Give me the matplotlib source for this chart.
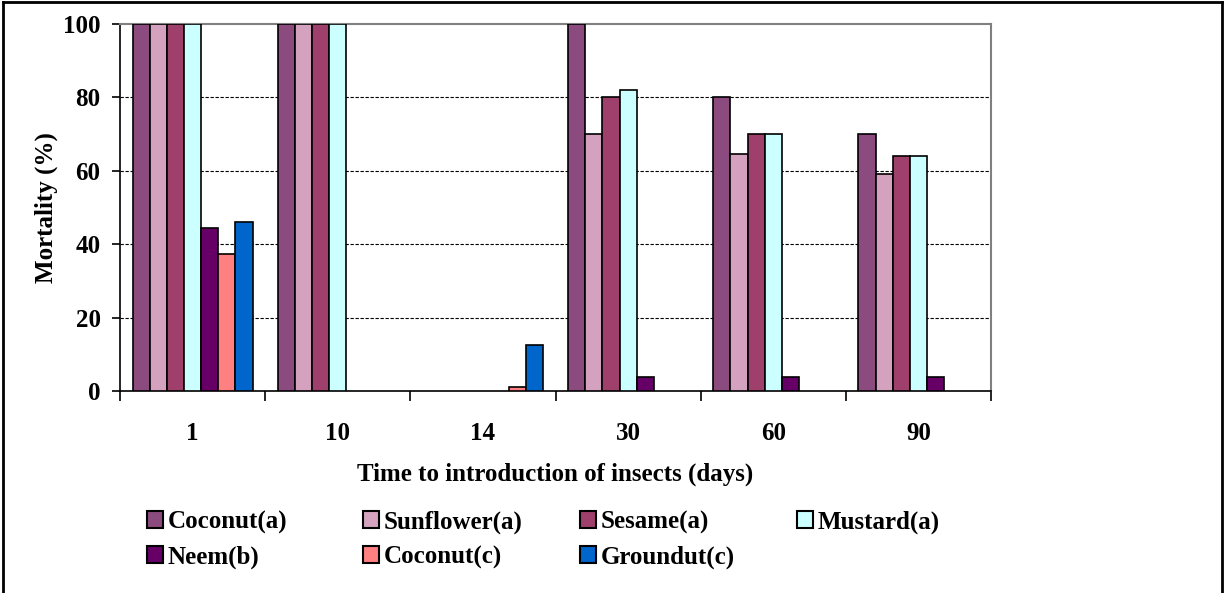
import matplotlib.pyplot as plt
import numpy as np
from matplotlib.lines import Line2D
from matplotlib.patches import Patch

plt.rcParams["font.family"] = ["Liberation Serif", "DejaVu Serif"]
plt.rcParams["font.weight"] = "bold"

days = ["1", "10", "14", "30", "60", "90"]
series_names = ["Coconut(a)", "Sunflower(a)", "Sesame(a)", "Mustard(a)",
                "Neem(b)", "Coconut(c)", "Groundut(c)"]
coconut_a = [100, 100, 0, 100, 80, 70]
sunflower_a = [100, 100, 0, 70, 64.5, 59.2]
sesame_a = [100, 100, 0, 80, 70, 64]
mustard_a = [100, 100, 0, 82, 70, 64]
neem_b = [44.5, 0, 0, 3.7, 3.7, 3.7]
coconut_c = [37.3, 0, 1, 0, 0, 0]
groundnut_c = [46, 0, 12.5, 0, 0, 0]
yticks = [0, 20, 40, 60, 80, 100]

series = [coconut_a, sunflower_a, sesame_a, mustard_a, neem_b, coconut_c, groundnut_c]
colors = ["#8C4B7E", "#D4A2BE", "#9E3F6C", "#CCFFFF", "#660066", "#FF8080", "#0066CC"]
FS = 18

fig = plt.figure(figsize=(12.24, 5.93), dpi=100)
ax = fig.add_axes([120 / 1224, 1 - 391 / 593, 871 / 1224, 367 / 593])

x = np.arange(len(days))
width = 0.118
for i, (vals, col) in enumerate(zip(series, colors)):
    # zero values are not drawn in the original
    heights = np.where(np.array(vals) == 0, np.nan, vals)
    ax.bar(x + (i - 3) * width, heights, width, color=col, edgecolor="black",
           linewidth=1.2, zorder=3)

ax.set_xlim(-0.5, len(days) - 0.5)
ax.set_ylim(0, 100)
ax.set_yticks(yticks)
ax.set_yticklabels([str(v) for v in yticks], fontsize=FS, fontweight="bold")
ax.set_xticks(x)
ax.set_xticklabels(days, fontsize=FS, fontweight="bold")
ax.set_xticks(np.arange(-0.5, len(days)), minor=True)
ax.tick_params(axis="x", which="major", length=0, pad=22)
ax.tick_params(axis="x", which="minor", length=7, width=1.2, direction="out")
ax.tick_params(axis="y", length=6, width=1.2, pad=8, direction="out")

for y in yticks[1:-1]:
    ax.axhline(y, color="black", linestyle=(0, (3, 1.5)), linewidth=0.8, zorder=1)

ax.spines["left"].set_linewidth(1.2)
ax.spines["bottom"].set_linewidth(1.2)
ax.spines["top"].set_color("#808080")
ax.spines["right"].set_color("#808080")
ax.spines["top"].set_linewidth(1.5)
ax.spines["right"].set_linewidth(1.5)

ax.set_xlabel("Time to introduction of insects (days)", fontsize=FS,
              fontweight="bold", labelpad=13)
ax.set_ylabel("Mortality (%)", fontsize=FS, fontweight="bold", labelpad=4)

# legend laid out in fixed columns like the original
col_x = [147, 363, 580, 797]
row_y = [522, 557]
for i, (name, col) in enumerate(zip(series_names, colors)):
    handle = Patch(facecolor=col, edgecolor="black", linewidth=1.5)
    fig.legend(handles=[handle], labels=[name], loc="center left",
               bbox_to_anchor=(col_x[i % 4] / 1224, 1 - row_y[i // 4] / 593),
               frameon=False, handlelength=0.62, handleheight=0.62,
               handletextpad=0.2, borderpad=0, borderaxespad=0,
               prop={"weight": "bold", "size": FS})

# outer frame
fig.add_artist(Line2D([0.0025, 0.0025], [0, 0.997], color="black", lw=2,
                      transform=fig.transFigure))
fig.add_artist(Line2D([0.0025, 0.998], [0.997, 0.997], color="black", lw=2,
                      transform=fig.transFigure))
fig.add_artist(Line2D([0.998, 0.998], [0, 0.997], color="black", lw=2,
                      transform=fig.transFigure))

fig.savefig("out.png", dpi=100)
plt.close(fig)
